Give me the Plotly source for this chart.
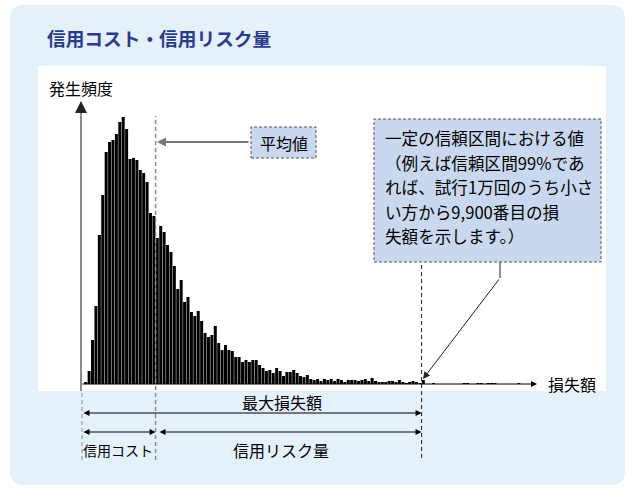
import plotly.graph_objects as go

W, H = 634, 492

# Frequency of simulated losses per loss bin (10,000 trials)
freq = [
    2, 13, 44, 78, 149, 189, 232, 242, 244, 250,
    262, 267, 255, 225, 226, 224, 214, 211, 202, 171,
    168, 146, 158, 152, 139, 132, 118, 95, 104, 82,
    87, 72, 68, 73, 63, 51, 47, 49, 58, 41,
    34, 39, 34, 33, 27, 27, 22, 24, 22, 24,
    24, 19, 16, 13, 14, 11, 16, 13, 8, 12,
    12, 14, 11, 8, 7, 9, 5, 4, 5, 3,
    5, 4, 5, 3, 5, 4, 2, 4, 4, 4,
    3, 4, 5, 3, 6, 3, 2, 2, 2, 3,
    3, 2, 4, 2, 1, 2, 3, 2, 1, 4,
    0, 0, 1, 0, 0, 0, 0, 0, 0, 0,
    0, 1, 1, 0, 0, 1, 1, 0, 1, 1,
    1, 0, 0, 0, 0, 0, 0, 1,
]
bins = list(range(len(freq)))

mean_edge = 20.5   # expected loss (credit cost) boundary, in bins
var_edge = 98.5    # 99% quantile boundary, in bins

title = "信用コスト・信用リスク量"
y_label = "発生頻度"
x_label = "損失額"
mean_label = "平均値"
note_lines = [
    "一定の信頼区間における値",
    "（例えば信頼区間99%であ",
    "れば、試行1万回のうち小さ",
    "い方から9,900番目の損",
    "失額を示します。）",
]
max_loss_label = "最大損失額"
cost_label = "信用コスト"
risk_label = "信用リスク量"

FONT = "Noto Sans CJK JP"


def px(x):
    return x / W


def py(y):
    return 1 - y / H


def rounded_rect(x0, y0, x1, y1, r):
    X0, X1 = px(x0), px(x1)
    Y0, Y1 = py(y0), py(y1)
    rx, ry = r / W, r / H
    return (
        f"M{X0 + rx},{Y0} L{X1 - rx},{Y0} Q{X1},{Y0} {X1},{Y0 - ry} "
        f"L{X1},{Y1 + ry} Q{X1},{Y1} {X1 - rx},{Y1} "
        f"L{X0 + rx},{Y1} Q{X0},{Y1} {X0},{Y1 + ry} "
        f"L{X0},{Y0 - ry} Q{X0},{Y0} {X0 + rx},{Y0} Z"
    )


fig = go.Figure()
fig.add_trace(go.Bar(
    x=bins, y=freq,
    marker=dict(color="#000000", line=dict(width=0)),
    hoverinfo="skip",
))

x_lo = (81 - 85.7) / 3.41
x_hi = (536 - 85.7) / 3.41

shapes = [
    # light blue panel
    dict(type="path", path=rounded_rect(10, 5, 625, 485, 14), xref="paper", yref="paper",
         fillcolor="#E4F1FB", line=dict(width=0), layer="below"),
    # white chart area
    dict(type="rect", xref="paper", yref="paper", x0=px(38), x1=px(606), y0=py(391), y1=py(66),
         fillcolor="#FFFFFF", line=dict(width=0), layer="below"),
    # y axis line
    dict(type="line", xref="paper", yref="paper", x0=px(81), x1=px(81), y0=py(391), y1=py(108),
         line=dict(color="#8C8C8C", width=2), layer="above"),
    # mean line
    dict(type="line", xref="x", yref="paper", x0=mean_edge, x1=mean_edge, y0=py(460), y1=py(116),
         line=dict(color="#8C8C8C", width=1.5, dash="4px,3px"), layer="above"),
    # 99% quantile line
    dict(type="line", xref="x", yref="paper", x0=var_edge, x1=var_edge, y0=py(458), y1=py(262),
         line=dict(color="#222222", width=1, dash="4px,3px"), layer="above"),
    # origin guide line
    dict(type="line", xref="paper", yref="paper", x0=px(82), x1=px(82), y0=py(460), y1=py(392),
         line=dict(color="#8C8C8C", width=1, dash="4px,3px"), layer="above"),
    # mean label box
    dict(type="rect", xref="paper", yref="paper", x0=px(251), x1=px(316), y0=py(158), y1=py(127),
         fillcolor="#C9D8EE", line=dict(color="#555555", width=1, dash="3px,2px"), layer="above"),
    # note box
    dict(type="rect", xref="paper", yref="paper", x0=px(374), x1=px(601), y0=py(262), y1=py(119),
         fillcolor="#C9D8EE", line=dict(color="#555555", width=1, dash="3px,2px"), layer="above"),
    # short stem under the note box
    dict(type="line", xref="paper", yref="paper", x0=px(500), x1=px(500), y0=py(262), y1=py(278),
         line=dict(color="#222222", width=1), layer="above"),
]

ann = []


def arrow(x, y, ax, ay, color="#000000", width=1, head=2, size=1, both=False, xref="paper"):
    d = dict(x=x, y=y, xref=xref, yref="paper", ax=ax, ay=ay, axref="pixel", ayref="pixel",
             text="", showarrow=True, arrowcolor=color, arrowwidth=width, arrowhead=head,
             arrowsize=size, standoff=0, startstandoff=0)
    if both:
        d.update(arrowside="end+start", startarrowhead=head, startarrowsize=size)
    ann.append(d)


# axes arrows (ax < 0: tail to the left of the head)
arrow(px(537), py(384), -(537 - 81), 0, color="#000000", width=1, head=2, size=1.2)
arrow(px(81), py(101), 0, 12, color="#222222", width=2, head=2, size=1.2)
# mean pointer
arrow(px(157), py(142), 93, 0, color="#777777", width=2, head=2, size=0.9)
# note pointer
arrow(px(423), py(379), 500 - 423, 278 - 379, color="#222222", width=1, head=2, size=1.4)
# span arrows
arrow(var_edge, py(413), -(421.6 - 82), 0, width=1, head=2, size=1.2, both=True, xref="x")
arrow(mean_edge, py(432), -(155.6 - 82), 0, width=1, head=2, size=1.2, both=True, xref="x")
arrow(var_edge, py(432), -(421.6 - 158), 0, width=1, head=2, size=1.2, both=True, xref="x")


def text(s, x, y, size, color="#000000", xanchor="center", bold=False):
    ann.append(dict(text=f"<b>{s}</b>" if bold else s, x=px(x), y=py(y), xref="paper", yref="paper",
                    xanchor=xanchor, yanchor="middle", showarrow=False,
                    font=dict(family=FONT, size=size, color=color)))


text(title, 45, 37, 18.7, color="#2D3A8C", xanchor="left", bold=True)
text(y_label, 47, 88, 16, xanchor="left")
text(x_label, 546, 384, 16, xanchor="left")
text(mean_label, 283.5, 143, 16)
for i, line in enumerate(note_lines):
    text(line, 383, 138 + i * 24.5, 16.6, xanchor="left")
text(max_loss_label, 282, 402, 16)
text(cost_label, 118, 450, 14)
text(risk_label, 281, 450, 16)

fig.update_layout(
    width=W, height=H,
    margin=dict(l=0, r=0, t=0, b=0),
    paper_bgcolor="#FFFFFF",
    plot_bgcolor="rgba(0,0,0,0)",
    showlegend=False,
    bargap=0.12,
    xaxis=dict(domain=[px(81), px(536)], range=[x_lo, x_hi], visible=False, fixedrange=True),
    yaxis=dict(domain=[py(384), py(102)], range=[0, 282], visible=False, fixedrange=True),
    shapes=shapes,
    annotations=ann,
)

fig.write_html("out.html")
